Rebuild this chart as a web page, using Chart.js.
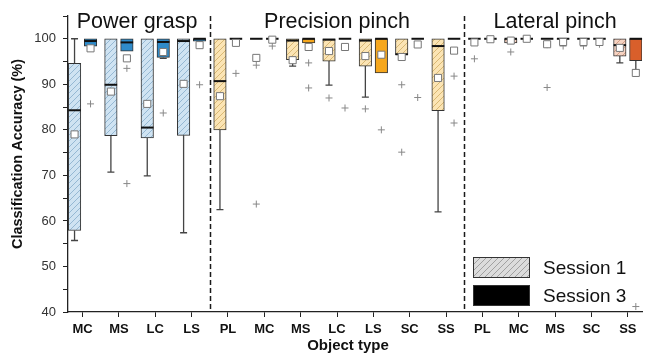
<!DOCTYPE html>
<html>
<head>
<meta charset="utf-8">
<script src="https://cdn.jsdelivr.net/npm/chart.js@4.4.1/dist/chart.umd.min.js"></script>
<style>
  html, body { margin: 0; padding: 0; background: #fff; }
  #wrap { width: 648px; height: 355px; }
</style>
</head>
<body>
<div id="wrap"><canvas id="myChart" width="648" height="355"></canvas></div>
<script>
// object types along the x axis, grouped by grasp
var categories = ['MC', 'MS', 'LC', 'LS', 'PL', 'MC', 'MS', 'LC', 'LS', 'SC', 'SS', 'PL', 'MC', 'MS', 'SC', 'SS'];
var groupNames = ['Power grasp', 'Precision pinch', 'Lateral pinch'];
var groupOf = [0, 0, 0, 0, 1, 1, 1, 1, 1, 1, 1, 2, 2, 2, 2, 2];
var sessionNames = ['Session 1', 'Session 3'];

// session 1 box stats (%)
var s1Min = [55.7, 70.7, 69.9, 57.4, 62.5, 100, 94.0, 89.8, 87.2, 96.5, 62.0, 99.0, 99.1, 100, 100, 94.7];
var s1Q1 = [57.9, 78.7, 78.2, 78.8, 80.0, 100, 95.4, 95.1, 94.0, 96.5, 84.2, 100, 99.1, 100, 100, 96.2];
var s1Median = [84.3, 89.9, 80.5, 99.5, 90.7, 100, 99.6, 99.8, 99.6, 96.6, 98.4, 100, 100, 100, 100, 98.6];
var s1Q3 = [94.6, 100, 100, 100, 100, 100, 100, 100, 100, 100, 100, 100, 100, 100, 100, 100];
var s1Max = [100, 100, 100, 100, 100, 100, 100, 100, 100, 100, 100, 100, 100, 100, 100, 100];
var s1Mean = [79.0, 88.4, 85.7, 90.1, 87.4, 95.8, 95.3, 97.3, 96.2, 96.0, 91.4, 99.2, 99.6, 98.8, 99.3, 98.0];
var s1Outliers = [[], [], [], [], [], [94.2, 63.7], [], [87.0], [84.6], [89.9, 75.1], [], [95.6], [97.1], [98.7, 89.3], [98.4], []];

// session 3 box stats (%)
var s3Min = [98.4, 97.3, 95.7, 99.5, 100, 100, 99.1, 100, 92.5, 100, 100, 100, 100, 100, 98.8, 93.2];
var s3Q1 = [98.4, 97.3, 95.9, 99.5, 100, 100, 99.1, 100, 92.5, 100, 100, 100, 100, 100, 100, 95.2];
var s3Median = [99.5, 99.2, 99.3, 100, 100, 100, 100, 100, 100, 100, 100, 100, 100, 100, 100, 100];
var s3Q3 = [100, 100, 100, 100, 100, 100, 100, 100, 100, 100, 100, 100, 100, 100, 100, 100];
var s3Max = [100, 100, 100, 100, 100, 100, 100, 100, 100, 100, 100, 100, 100, 100, 100, 100];
var s3Mean = [97.9, 95.7, 97.1, 98.6, 99.1, 99.8, 98.2, 98.2, 96.5, 98.75, 97.4, 99.9, 100, 99.3, 99.3, 92.5];
var s3Outliers = [[85.7], [93.5, 68.2], [83.7], [98.7, 89.9], [92.4], [98.4], [94.7, 89.2], [84.8], [80.0], [87.1], [91.8, 81.5], [], [], [98.4], [98.8], [41.2]];

var sessions = [
  { min: s1Min, q1: s1Q1, median: s1Median, q3: s1Q3, max: s1Max, mean: s1Mean, outliers: s1Outliers },
  { min: s3Min, q1: s3Q1, median: s3Median, q3: s3Q3, max: s3Max, mean: s3Mean, outliers: s3Outliers }
];

// styles
var hatchFill = ['#cfe3f2', '#fbe4b4', '#f6d3c2'];
var hatchLine = ['#8fb3cf', '#d5b26c', '#d29a80'];
var solidFill = ['#2f8bca', '#f6a71d', '#d95f2b'];
var sideOffset = 0.22; // session 1 left of the tick, session 3 right
var fontFamily = "'Liberation Sans', Arial, sans-serif";

function makeHatch(fill, line) {
  var c = document.createElement('canvas');
  c.width = 6;
  c.height = 6;
  var g = c.getContext('2d');
  g.fillStyle = fill;
  g.fillRect(0, 0, 6, 6);
  g.strokeStyle = line;
  g.lineWidth = 0.9;
  g.beginPath();
  g.moveTo(0, 6); g.lineTo(6, 0);
  g.moveTo(-1, 1); g.lineTo(1, -1);
  g.moveTo(5, 7); g.lineTo(7, 5);
  g.stroke();
  return document.getElementById('myChart').getContext('2d').createPattern(c, 'repeat');
}

var hatchPatterns = hatchFill.map(function (f, i) { return makeHatch(f, hatchLine[i]); });
var legendHatch = makeHatch('#dcdcdc', '#9a9a9a');

function boxData(s) {
  var out = [];
  for (var i = 0; i < categories.length; i++) {
    out.push({ x: i + (s === 0 ? -sideOffset : sideOffset), y: [sessions[s].q1[i], sessions[s].q3[i]] });
  }
  return out;
}

function meanData() {
  var out = [];
  for (var s = 0; s < 2; s++) {
    for (var i = 0; i < categories.length; i++) {
      out.push({ x: i + (s === 0 ? -sideOffset : sideOffset), y: sessions[s].mean[i] });
    }
  }
  return out;
}

function outlierData() {
  var out = [];
  for (var s = 0; s < 2; s++) {
    for (var i = 0; i < categories.length; i++) {
      sessions[s].outliers[i].forEach(function (v) {
        out.push({ x: i + (s === 0 ? -sideOffset : sideOffset), y: v });
      });
    }
  }
  return out;
}

// whiskers, medians, separators, group titles and legend
var boxPlotPlugin = {
  id: 'boxPlot',
  beforeDatasetsDraw: function (chart) {
    var ctx = chart.ctx;
    var xs = chart.scales.x;
    var ys = chart.scales.y;
    var area = chart.chartArea;
    ctx.save();
    // dashed lines between grasp types
    ctx.strokeStyle = '#1a1a1a';
    ctx.lineWidth = 1.5;
    ctx.setLineDash([5, 3]);
    for (var i = 1; i < groupOf.length; i++) {
      if (groupOf[i] !== groupOf[i - 1]) {
        var px = Math.round(xs.getPixelForValue(i - 0.5)) + 0.5;
        ctx.beginPath();
        ctx.moveTo(px, area.top);
        ctx.lineTo(px, area.bottom);
        ctx.stroke();
      }
    }
    ctx.setLineDash([]);
    // whiskers
    ctx.strokeStyle = '#444';
    ctx.lineWidth = 1.3;
    for (var s = 0; s < 2; s++) {
      var meta = chart.getDatasetMeta(s);
      meta.data.forEach(function (bar, i) {
        var st = sessions[s];
        var cx = bar.x;
        var yMin = ys.getPixelForValue(st.min[i]);
        var yQ1 = ys.getPixelForValue(st.q1[i]);
        var yQ3 = ys.getPixelForValue(st.q3[i]);
        var yMax = ys.getPixelForValue(st.max[i]);
        ctx.beginPath();
        if (st.min[i] < st.q1[i]) {
          ctx.moveTo(cx, yQ1); ctx.lineTo(cx, yMin);
          ctx.moveTo(cx - 3.5, yMin); ctx.lineTo(cx + 3.5, yMin);
        }
        if (st.max[i] > st.q3[i]) {
          ctx.moveTo(cx, yQ3); ctx.lineTo(cx, yMax);
          ctx.moveTo(cx - 3.5, yMax); ctx.lineTo(cx + 3.5, yMax);
        }
        ctx.stroke();
      });
    }
    ctx.restore();
  },
  afterDatasetDraw: function (chart, args) {
    if (args.index > 1) return;
    var ctx = chart.ctx;
    var ys = chart.scales.y;
    var st = sessions[args.index];
    ctx.save();
    ctx.strokeStyle = '#111';
    ctx.lineWidth = 2;
    args.meta.data.forEach(function (bar, i) {
      var y = ys.getPixelForValue(st.median[i]);
      ctx.beginPath();
      ctx.moveTo(bar.x - bar.width / 2, y);
      ctx.lineTo(bar.x + bar.width / 2, y);
      ctx.stroke();
    });
    ctx.restore();
  },
  afterDraw: function (chart) {
    var ctx = chart.ctx;
    var xs = chart.scales.x;
    ctx.save();
    ctx.fillStyle = '#111';
    // group titles
    ctx.font = '21.5px ' + fontFamily;
    ctx.textAlign = 'center';
    ctx.textBaseline = 'alphabetic';
    groupNames.forEach(function (name, g) {
      var first = groupOf.indexOf(g);
      var last = groupOf.lastIndexOf(g);
      var cx = (xs.getPixelForValue(first) + xs.getPixelForValue(last)) / 2;
      ctx.fillText(name, cx, 28);
    });
    // axis titles
    ctx.font = 'bold 15px ' + fontFamily;
    ctx.textBaseline = 'middle';
    ctx.fillText('Object type', 348, 346);
    ctx.save();
    ctx.translate(18, 154);
    ctx.rotate(-Math.PI / 2);
    ctx.font = 'bold 14.5px ' + fontFamily;
    ctx.fillText('Classification Accuracy (%)', 0, 0);
    ctx.restore();
    // legend
    var lx = 473, ly = 257, lw = 57, lh = 21;
    sessionNames.forEach(function (name, s) {
      var y = ly + s * 28;
      ctx.fillStyle = s === 0 ? legendHatch : '#000';
      ctx.fillRect(lx, y, lw, lh);
      ctx.strokeStyle = '#333';
      ctx.lineWidth = 1;
      ctx.strokeRect(lx + 0.5, y + 0.5, lw - 1, lh - 1);
      ctx.fillStyle = '#111';
      ctx.font = '19px ' + fontFamily;
      ctx.textAlign = 'left';
      ctx.fillText(name, lx + 70, y + lh / 2 + 1);
    });
    ctx.restore();
  }
};

Chart.defaults.font.family = fontFamily;

var ctx = document.getElementById('myChart').getContext('2d');
var chart = new Chart(ctx, {
  type: 'bar',
  data: {
    datasets: [
      {
        label: sessionNames[0],
        data: boxData(0),
        backgroundColor: function (c) { return hatchPatterns[groupOf[c.dataIndex]]; },
        borderColor: '#333',
        borderWidth: 1,
        borderSkipped: false,
        barThickness: 12.5,
        grouped: false,
        order: 3
      },
      {
        label: sessionNames[1],
        data: boxData(1),
        backgroundColor: function (c) { return solidFill[groupOf[c.dataIndex]]; },
        borderColor: '#333',
        borderWidth: 1,
        borderSkipped: false,
        barThickness: 12.5,
        grouped: false,
        order: 3
      },
      {
        type: 'scatter',
        label: 'Mean',
        data: meanData(),
        pointStyle: 'rect',
        radius: 5,
        backgroundColor: '#fff',
        borderColor: '#777',
        borderWidth: 1,
        order: 1
      },
      {
        type: 'scatter',
        label: 'Outliers',
        data: outlierData(),
        pointStyle: 'cross',
        radius: 3.5,
        borderColor: '#888',
        borderWidth: 1,
        order: 1
      }
    ]
  },
  options: {
    responsive: false,
    animation: false,
    devicePixelRatio: 1,
    layout: { padding: { top: 16, right: 1, left: 0, bottom: 0 } },
    plugins: {
      legend: { display: false },
      tooltip: { enabled: false }
    },
    scales: {
      x: {
        type: 'linear',
        min: -0.4,
        max: 15.39,
        offset: false,
        grid: { offset: false, drawOnChartArea: false, tickLength: 5, color: '#222' },
        border: { display: true, color: '#222', width: 1.3 },
        afterBuildTicks: function (scale) {
          scale.ticks = categories.map(function (c, i) { return { value: i }; });
        },
        afterFit: function (scale) { scale.height = 43; },
        ticks: {
          autoSkip: false,
          maxRotation: 0,
          padding: 5,
          color: '#111',
          font: { size: 13, weight: 'bold' },
          callback: function (v) { return categories[v]; }
        }
      },
      y: {
        min: 40,
        max: 105,
        beginAtZero: false,
        grid: { drawOnChartArea: false, tickLength: 5, color: '#222' },
        border: { display: true, color: '#222', width: 1.3 },
        afterFit: function (scale) { scale.width = 68; },
        ticks: {
          stepSize: 5,
          padding: 7,
          color: '#333',
          font: { size: 13 },
          callback: function (v) { return (v % 10 === 0 && v <= 100) ? v : ''; }
        }
      }
    }
  },
  plugins: [boxPlotPlugin]
});
</script>
</body>
</html>
